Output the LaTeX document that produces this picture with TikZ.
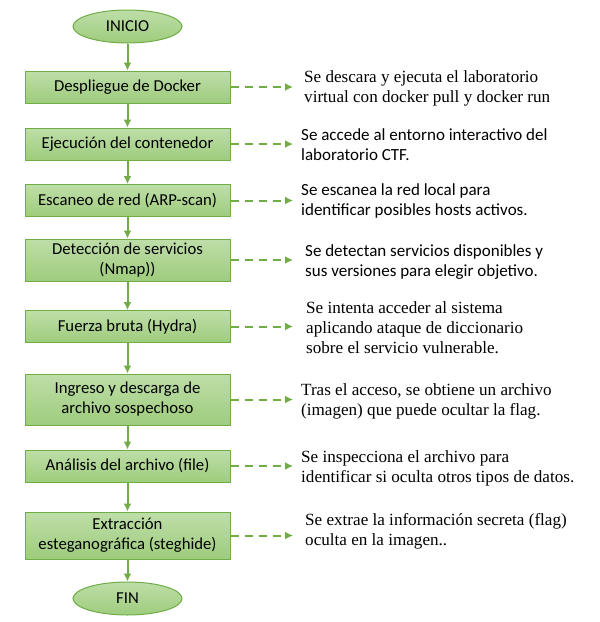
\documentclass[tikz,border=0pt]{standalone}
\usepackage{fontspec}
\setmainfont{Carlito}
\newfontfamily\timesfont{Liberation Serif}
\usetikzlibrary{shapes.geometric, arrows.meta}

\definecolor{boxtop}{RGB}{190, 222, 168}
\definecolor{boxbot}{RGB}{158, 204, 125}
\definecolor{boxline}{RGB}{112, 173, 71}
\definecolor{linegreen}{RGB}{112, 173, 71}

\tikzset{
  stepbox/.style={rectangle, draw=boxline, line width=1pt, top color=boxtop, bottom color=boxbot,
    minimum width=205pt, minimum height=32pt, align=center, font=\fontsize{16.7}{20}\selectfont},
  endbox/.style={ellipse, draw=boxline, line width=1pt, top color=boxtop, bottom color=boxbot,
    minimum width=109pt, minimum height=33pt, inner sep=0pt, font=\fontsize{16.7}{20}\selectfont},
  note/.style={anchor=west, align=left, inner xsep=11pt, inner ysep=0pt, font=\fontsize{17}{20}\selectfont},
  serifnote/.style={note, font=\timesfont\fontsize{17.1}{20}\selectfont},
  flow/.style={linegreen, line width=2pt, -{Latex[length=8pt, width=8pt]}},
  side/.style={linegreen, line width=2pt, dash pattern=on 8pt off 6pt, -{Latex[length=8pt, width=8pt]}}
}

\begin{document}
\begin{tikzpicture}[x=1pt, y=-1pt]

\useasboundingbox (0, 0) rectangle (600, 622);

% Start and end
\node[endbox] (inicio) at (127.5, 26.5) {INICIO};
\node[endbox] (fin) at (127.5, 598.5) {FIN};

% Steps
\node[stepbox] (docker) at (127.5, 87) {Despliegue de Docker};
\node[stepbox] (contenedor) at (127.5, 144) {Ejecución del contenedor};
\node[stepbox] (arp) at (127.5, 200.5) {Escaneo de red (ARP-scan)};
\node[stepbox, minimum height=42pt] (nmap) at (127.5, 260) {Detección de servicios\\(Nmap))};
\node[stepbox] (hydra) at (127.5, 326.5) {Fuerza bruta (Hydra)};
\node[stepbox, minimum height=51pt] (ingreso) at (127.5, 399.5) {Ingreso y descarga de\\archivo sospechoso};
\node[stepbox] (file) at (127.5, 466) {Análisis del archivo (file)};
\node[stepbox, minimum height=47pt] (steghide) at (127.5, 535.5) {Extracción\\esteganográfica (steghide)};

% Notes on the right
\node[serifnote] (nota1) at (293, 88) {Se descara y ejecuta el laboratorio\\virtual con docker pull y docker run};
\node[note] (nota2) at (290, 145) {Se accede al entorno interactivo del\\laboratorio CTF.};
\node[note] (nota3) at (290, 201) {Se escanea la red local para\\identificar posibles hosts activos.};
\node[note] (nota4) at (294, 262) {Se detectan servicios disponibles y\\sus versiones para elegir objetivo.};
\node[serifnote] (nota5) at (295, 328) {Se intenta acceder al sistema\\aplicando ataque de diccionario\\sobre el servicio vulnerable.};
\node[serifnote] (nota6) at (290, 401) {Tras el acceso, se obtiene un archivo\\(imagen) que puede ocultar la flag.};
\node[serifnote] (nota7) at (290, 468) {Se inspecciona el archivo para\\identificar si oculta otros tipos de datos.};
\node[serifnote] (nota8) at (294, 531) {Se extrae la información secreta (flag)\\oculta en la imagen..};

% Main flow
\draw[flow] (inicio) -- (docker);
\draw[flow] (docker) -- (contenedor);
\draw[flow] (contenedor) -- (arp);
\draw[flow] (arp) -- (nmap);
\draw[flow] (nmap) -- (hydra);
\draw[flow] (hydra) -- (ingreso);
\draw[flow] (ingreso) -- (file);
\draw[flow] (file) -- (steghide);
\draw[flow] (steghide) -- (fin);

% Dashed arrows to the notes
\coordinate (tipx) at (293, 0);
\draw[side] (docker.east) -- (docker.east -| tipx);
\draw[side] (contenedor.east) -- (contenedor.east -| tipx);
\draw[side] (arp.east) -- (arp.east -| tipx);
\draw[side] (nmap.east) -- (nmap.east -| tipx);
\draw[side] (hydra.east) -- (hydra.east -| tipx);
\draw[side] (ingreso.east) -- (ingreso.east -| tipx);
\draw[side] (file.east) -- (file.east -| tipx);
\draw[side] (steghide.east) -- (steghide.east -| tipx);

\end{tikzpicture}
\end{document}
